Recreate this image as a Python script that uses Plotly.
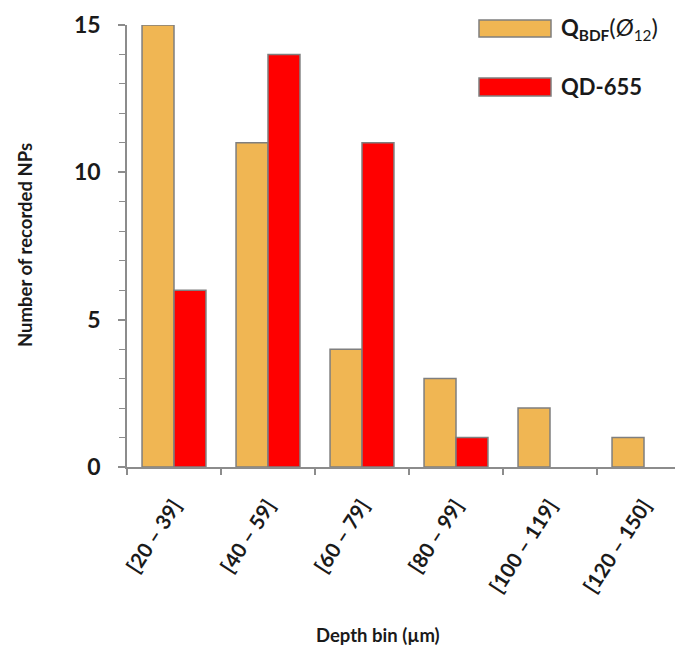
import plotly.graph_objects as go

categories = ["[20 – 39]", "[40 – 59]", "[60 – 79]", "[80 – 99]", "[100 – 119]", "[120 – 150]"]
qbdf_values = [15, 11, 4, 3, 2, 1]
qd655_values = [6, 14, 11, 1, 0, 0]
y_ticks = [0, 5, 10, 15]

W, H = 683, 666
OFF = 8  # page body margin offset in the screenshot
L, R, T, B = 119, 0, 17, 207
pw, ph = W - L - R, H - T - B

def px_x(sx):
    return (sx - OFF - L) / pw

def px_y(sy):
    return (H - B - (sy - OFF)) / ph

FONT = "Lato, 'Open Sans', sans-serif"
ORANGE = "#F0B653"
RED = "#FF0000"
EDGE = "#7F7F7F"
AX = "#8C8C8C"
TXT = "#1a1a1a"

def edge_widths(vals):
    return [1.5 if v > 0 else 0 for v in vals]

fig = go.Figure()
fig.add_trace(go.Bar(x=categories, y=qbdf_values, name="QBDF",
                     marker=dict(color=ORANGE, line=dict(color=EDGE, width=edge_widths(qbdf_values)))))
fig.add_trace(go.Bar(x=categories, y=qd655_values, name="QD-655",
                     marker=dict(color=RED, line=dict(color=EDGE, width=edge_widths(qd655_values)))))

fig.update_layout(
    width=W, height=H,
    margin=dict(l=L, r=R, t=T, b=B),
    paper_bgcolor="white", plot_bgcolor="white",
    barmode="group", bargap=0.32, bargroupgap=0,
    showlegend=False,
    font=dict(family=FONT, color=TXT),
    xaxis=dict(
        type="category",
        range=[-0.5, 5.5],
        showline=True, linecolor=AX, linewidth=1.5,
        ticks="outside", tickson="boundaries", ticklen=6, tickcolor=AX, tickwidth=1.5,
        tickangle=-57,
        tickfont=dict(family=FONT, size=20.5, color=TXT, weight="bold"),
        ticklabelstandoff=17,
        showgrid=False, zeroline=False,
    ),
    yaxis=dict(
        range=[0, 15],
        tickvals=y_ticks,
        showline=True, linecolor=AX, linewidth=1.5,
        ticks="outside", ticklen=7, tickcolor=AX, tickwidth=1.5,
        minor=dict(dtick=1, ticks="outside", ticklen=6, tickcolor=AX, tickwidth=1.2),
        tickfont=dict(family=FONT, size=23, color=TXT, weight="bold"),
        ticklabelstandoff=13,
        showgrid=False, zeroline=False,
    ),
)

# axis titles
fig.add_annotation(text="<b>Depth bin (µm)</b>", xref="paper", yref="paper",
                   x=px_x(378), y=px_y(635), xanchor="center", yanchor="middle",
                   showarrow=False, font=dict(family=FONT, size=18.5, color=TXT))
fig.add_annotation(text="<b>Number of recorded NPs</b>", xref="paper", yref="paper",
                   x=px_x(25), y=px_y(245), xanchor="center", yanchor="middle", textangle=-90,
                   showarrow=False, font=dict(family=FONT, size=18.5, color=TXT))

# legend drawn manually
legend_items = [
    (ORANGE, "<b>Q</b><sub><b>BDF</b></sub><span style='font-size:24px'>(<i>Ø</i></span><sub>12</sub><span style='font-size:24px'>)</span>", 20, 37, 28),
    (RED, "<b>QD-655</b>", 78, 96, 87),
]
for col, txt, y0, y1, yc in legend_items:
    fig.add_shape(type="rect", xref="paper", yref="paper",
                  x0=px_x(479), x1=px_x(551), y0=px_y(y1), y1=px_y(y0),
                  fillcolor=col, line=dict(color=EDGE, width=1.5))
    fig.add_annotation(text=txt, xref="paper", yref="paper",
                       x=px_x(559), y=px_y(yc), xanchor="left", yanchor="middle",
                       showarrow=False, font=dict(family=FONT, size=22, color=TXT))

fig.write_html("out.html")
